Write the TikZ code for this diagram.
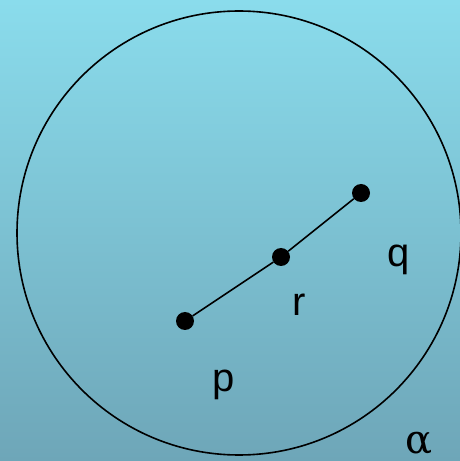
\documentclass[tikz,border=0pt]{standalone}
\usepackage{fontspec}
\setmainfont{Liberation Sans}
\newfontfamily\grk{DejaVu Serif}
\usetikzlibrary{positioning}
\definecolor{skytop}{HTML}{8ADCEC}
\definecolor{skybot}{HTML}{6EA6B8}
\tikzset{
  dot/.style={circle,fill=black,inner sep=0pt,minimum size=18pt},
  lbl/.style={anchor=base,inner sep=0pt,font=\fontsize{40}{48}\selectfont},
  ln/.style={line width=1.6pt,draw=black},
}
\begin{document}
\begin{tikzpicture}[x=1pt,y=1pt]
\shade[top color=skytop,bottom color=skybot] (0,0) rectangle (460,461);
\useasboundingbox (0,0) rectangle (460,461);
\draw[ln] (239,228) circle (222);
\node[dot] (p) at (185,140) {};
\node[dot] (r) at (281,204) {};
\node[dot] (q) at (361,268) {};
\draw[ln] (p) -- (r) -- (q);
\node[lbl] (lp) at (224,69) {p};
\node[lbl] (lr) at (299,145) {r};
\node[lbl] (lq) at (399,194) {q};
\node[lbl,font=\grk\fontsize{40}{48}\selectfont] (la) at (419,8) {α};
\end{tikzpicture}
\end{document}
